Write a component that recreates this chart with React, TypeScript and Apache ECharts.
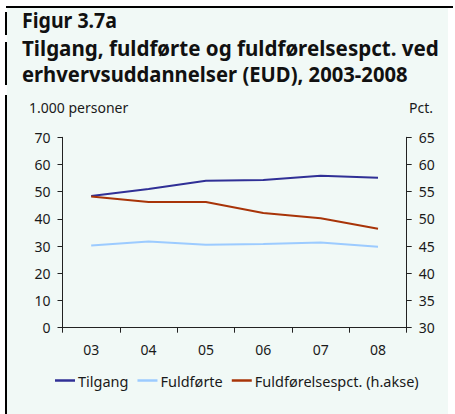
import React, { useEffect, useRef } from "react";
import * as echarts from "echarts";

const years = ["03", "04", "05", "06", "07", "08"];
const tilgang = [48.4, 51.0, 54.0, 54.3, 55.9, 55.1];
const fuldforte = [30.2, 31.7, 30.5, 30.8, 31.3, 29.8];
const fuldforelsespct = [54.1, 53.1, 53.1, 51.1, 50.1, 48.2];

const leftAxis = { min: 0, max: 70, interval: 10 };
const rightAxis = { min: 30, max: 65, interval: 5 };

const figLabel = "Figur 3.7a";
const titleLine1 = "Tilgang, fuldførte og fuldførelsespct. ved";
const titleLine2 = "erhvervsuddannelser (EUD), 2003-2008";
const leftUnit = "1.000 personer";
const rightUnit = "Pct.";
const seriesNames = ["Tilgang", "Fuldførte", "Fuldførelsespct. (h.akse)"];

const FONT = '"Noto Sans", sans-serif';
const TITLE_SIZE = 22;

function measure(text: string, font: string): number {
  const c = document.createElement("canvas");
  const ctx = c.getContext("2d");
  if (!ctx) return text.length * 10;
  ctx.font = font;
  return ctx.measureText(text).width;
}

export default function App() {
  const ref = useRef<HTMLDivElement>(null);

  useEffect(() => {
    document.body.style.margin = "0";
    if (!ref.current) return;
    const chart = echarts.init(ref.current, null, { renderer: "svg" });

    const tFont = `bold ${TITLE_SIZE}px "Noto Sans"`;
    const sFig = 95 / measure(figLabel, tFont);
    const s1 = 417 / measure(titleLine1, tFont);
    const s2 = 386 / measure(titleLine2, tFont);

    const titleStyle = (text: string) => ({
      text,
      fontFamily: FONT,
      fontSize: TITLE_SIZE,
      fontWeight: "bold",
      fill: "#111111",
      align: "left",
      verticalAlign: "middle",
    });

    chart.setOption({
      animation: false,
      backgroundColor: "#ffffff",
      graphic: [
        { type: "rect", silent: true, z: -10, shape: { x: 7, y: 8, width: 441, height: 406 }, style: { fill: "#f1f9f6" } },
        { type: "line", silent: true, shape: { x1: 6, y1: 7, x2: 453, y2: 7 }, style: { stroke: "#000", lineWidth: 2 } },
        { type: "line", silent: true, shape: { x1: 6, y1: 12, x2: 6, y2: 35 }, style: { stroke: "#000", lineWidth: 2 } },
        { type: "line", silent: true, shape: { x1: 6, y1: 42, x2: 6, y2: 85 }, style: { stroke: "#000", lineWidth: 2 } },
        { type: "line", silent: true, shape: { x1: 6, y1: 95, x2: 6, y2: 414 }, style: { stroke: "#000", lineWidth: 2 } },
        { type: "text", x: 22, y: 19.5, scaleX: sFig, style: titleStyle(figLabel) },
        { type: "text", x: 22, y: 47, scaleX: s1, style: titleStyle(titleLine1) },
        { type: "text", x: 22, y: 73, scaleX: s2, style: titleStyle(titleLine2) },
        {
          type: "text", x: 29, y: 107,
          style: { text: leftUnit, fontFamily: FONT, fontSize: 14, fill: "#1a1a1a", align: "left", verticalAlign: "middle" },
        },
        {
          type: "text", x: 433, y: 107,
          style: { text: rightUnit, fontFamily: FONT, fontSize: 14, fill: "#1a1a1a", align: "right", verticalAlign: "middle" },
        },
      ],
      legend: {
        left: 55,
        top: 373,
        padding: 0,
        icon: "rect",
        itemWidth: 20,
        itemHeight: 2.5,
        itemGap: 9,
        data: seriesNames,
        textStyle: { fontFamily: FONT, fontSize: 14.5, color: "#1a1a1a", padding: [0, 0, 0, -2] },
      },
      grid: { left: 62.5, right: 48.3, top: 137.3, bottom: 86.3, containLabel: false },
      xAxis: {
        type: "category",
        data: years,
        boundaryGap: true,
        axisLine: { lineStyle: { color: "#222", width: 1 } },
        axisTick: { show: true, length: 5, inside: false, alignWithLabel: false, lineStyle: { color: "#222" } },
        axisLabel: { fontFamily: FONT, fontSize: 14, color: "#1a1a1a", margin: 15 },
        splitLine: { show: false },
      },
      yAxis: [
        {
          type: "value",
          position: "left",
          min: leftAxis.min,
          max: leftAxis.max,
          interval: leftAxis.interval,
          axisLine: { show: true, lineStyle: { color: "#222", width: 1 } },
          axisTick: { show: true, length: 5, lineStyle: { color: "#222" } },
          axisLabel: { fontFamily: FONT, fontSize: 14, color: "#1a1a1a", margin: 12 },
          splitLine: { show: false },
        },
        {
          type: "value",
          position: "right",
          min: rightAxis.min,
          max: rightAxis.max,
          interval: rightAxis.interval,
          axisLine: { show: true, lineStyle: { color: "#222", width: 1 } },
          axisTick: { show: true, length: 5, lineStyle: { color: "#222" } },
          axisLabel: { fontFamily: FONT, fontSize: 14, color: "#1a1a1a", margin: 12 },
          splitLine: { show: false },
        },
      ],
      series: [
        {
          name: seriesNames[0], type: "line", yAxisIndex: 0, data: tilgang,
          showSymbol: false, lineStyle: { color: "#303096", width: 2 }, itemStyle: { color: "#303096" },
        },
        {
          name: seriesNames[1], type: "line", yAxisIndex: 0, data: fuldforte,
          showSymbol: false, lineStyle: { color: "#9ccbff", width: 2 }, itemStyle: { color: "#9ccbff" },
        },
        {
          name: seriesNames[2], type: "line", yAxisIndex: 1, data: fuldforelsespct,
          showSymbol: false, lineStyle: { color: "#a83408", width: 2 }, itemStyle: { color: "#a83408" },
        },
      ],
    });

    return () => chart.dispose();
  }, []);

  return <div ref={ref} style={{ width: 455, height: 414 }} />;
}
